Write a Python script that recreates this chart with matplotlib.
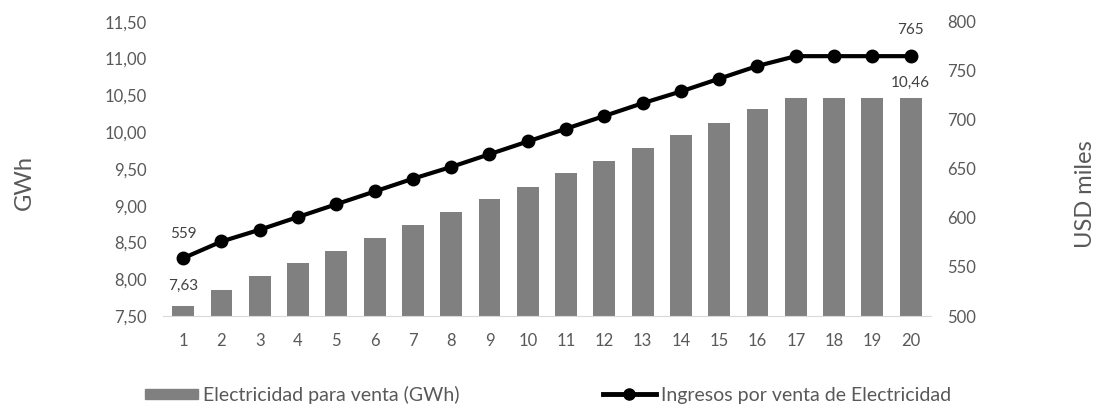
import matplotlib
matplotlib.use('Agg')
import matplotlib.pyplot as plt
from matplotlib.ticker import FuncFormatter, MultipleLocator
from matplotlib.lines import Line2D
from matplotlib.patches import Patch

anios = list(range(1, 21))
electricidad_gwh = [7.63, 7.86, 8.04, 8.22, 8.39, 8.56, 8.74, 8.91, 9.09, 9.26,
                    9.44, 9.61, 9.78, 9.96, 10.13, 10.32, 10.46, 10.46, 10.46, 10.46]
ingresos_usd = [559, 576, 588, 601, 614, 627, 640, 652, 665, 678,
                691, 704, 717, 729, 742, 755, 765, 765, 765, 765]

gris_texto = '#595959'
plt.rcParams['font.family'] = ['Lato', 'DejaVu Sans']

fig = plt.figure(figsize=(10.96, 4.12), dpi=100)
ax = fig.add_axes([0.149, 0.233, 0.700, 0.714])
ax2 = ax.twinx()

# barras en el eje izquierdo
ax.bar(anios, electricidad_gwh, width=0.57, color='#808080', zorder=2)
ax.set_ylim(7.5, 11.5)
ax.yaxis.set_major_locator(MultipleLocator(0.5))
ax.yaxis.set_major_formatter(FuncFormatter(lambda v, p: f'{v:.2f}'.replace('.', ',')))
ax.set_xlim(0.48, 20.52)
ax.set_xticks(anios)

# linea de ingresos en el eje derecho
ax2.plot(anios, ingresos_usd, color='black', lw=3, marker='o', ms=9, zorder=3)
ax2.set_ylim(500, 800)
ax2.yaxis.set_major_locator(MultipleLocator(50))

for a in (ax, ax2):
    for s in a.spines.values():
        s.set_visible(False)
    a.tick_params(length=0, colors=gris_texto, labelsize=12)
ax.spines['bottom'].set_visible(True)
ax.spines['bottom'].set_color('#d9d9d9')
ax.tick_params(axis='x', labelsize=12, pad=12)
ax.tick_params(axis='y', pad=12)
ax2.tick_params(axis='y', pad=12)

# titulos de los ejes
fig.text(24 / 1096, 1 - 183 / 412, 'GWh', rotation=90, ha='center', va='center',
         color=gris_texto, fontsize=17)
fig.text(1086 / 1096, 1 - 194 / 412, 'USD miles', rotation=90, ha='center', va='center',
         color=gris_texto, fontsize=17)

# etiquetas de datos en los extremos
ax.annotate(f'{electricidad_gwh[0]:.2f}'.replace('.', ','), (anios[0], electricidad_gwh[0]),
            xytext=(0, 10), textcoords='offset points', ha='center', va='bottom',
            color='#404040', fontsize=11)
ax.annotate(f'{electricidad_gwh[-1]:.2f}'.replace('.', ','), (anios[-1], electricidad_gwh[-1]),
            xytext=(0, 6), textcoords='offset points', ha='center', va='bottom',
            color='#404040', fontsize=11)
ax2.annotate(str(ingresos_usd[0]), (anios[0], ingresos_usd[0]),
             xytext=(0, 12), textcoords='offset points', ha='center', va='bottom',
             color='#404040', fontsize=11)
ax2.annotate(str(ingresos_usd[-1]), (anios[-1], ingresos_usd[-1]),
             xytext=(0, 14), textcoords='offset points', ha='center', va='bottom',
             color='#404040', fontsize=11)

# leyenda en dos partes, debajo del grafico
kw = dict(frameon=False, fontsize=14, labelcolor=gris_texto, borderpad=0,
          borderaxespad=0, handlelength=2.7, handletextpad=0.3, loc='lower left')
leg1 = fig.legend(handles=[Patch(color='#808080', label='Electricidad para venta (GWh)')],
                  bbox_to_anchor=(145 / 1096, 0.02), handleheight=0.4, **kw)
leg2 = fig.legend(handles=[Line2D([], [], color='black', lw=3.5, marker='o', ms=8,
                                  label='Ingresos por venta de Electricidad')],
                  bbox_to_anchor=(603 / 1096, 0.02), **kw)

fig.savefig('out.png', dpi=100)
